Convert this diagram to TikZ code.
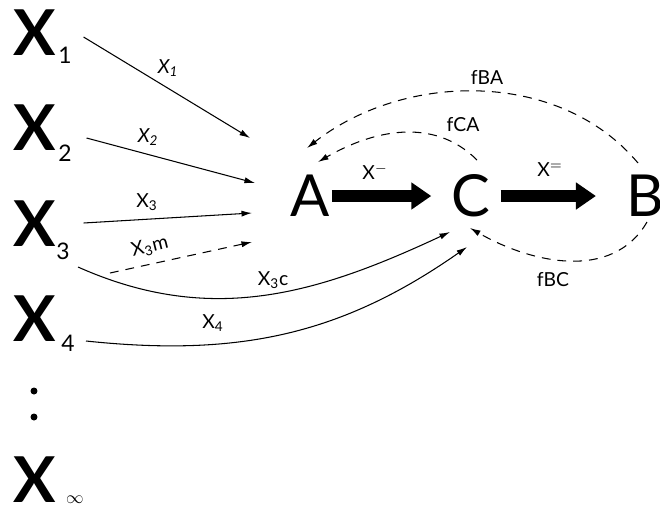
\documentclass[tikz,border=0pt]{standalone}
\usepackage{fontspec}
\setmainfont{Lato}
\usetikzlibrary{arrows.meta}

\begin{document}
\begin{tikzpicture}[x=0.02cm, y=-0.02cm,
  every node/.style={font=\fontsize{11}{13}\selectfont, inner sep=0pt},
  bigx/.style={font=\fontsize{36}{36}\selectfont\bfseries},
  xsub/.style={font=\fontsize{13}{13}\selectfont},
  letter/.style={font=\fontsize{33}{33}\selectfont},
  dot/.style={circle, fill, minimum size=0.14cm},
  flow/.style={line width=0.6pt, -{Latex[length=6pt,width=3.5pt]}},
  back/.style={flow, dash pattern=on 5pt off 4pt},
  fat/.style={line width=0.24cm, -{Triangle[length=0.4cm,width=0.52cm]}}]
  \useasboundingbox (0,0) rectangle (660,512);
  % inputs on the left
  \foreach \i/\y/\sx/\sy in {1/33/65/55, 2/128/65/153, 3/224/63/251, 4/319/68/343} {
    \node[bigx] (X\i) at (35,\y) {X};
    \node[xsub] (s\i) at (\sx,\sy) {\i};
  }
  \node[dot] (d1) at (34,391) {};
  \node[dot] (d2) at (34,417) {};
  \node[bigx] (Xinf) at (35,480) {X};
  \node[font=\fontsize{10}{10}\selectfont] (sinf) at (75,500) {$\infty$};
  % main chain
  \node[letter] (A) at (310,196) {A};
  \node[letter] (C) at (471,196) {C};
  \node[letter] (B) at (645,196) {B};
  \draw[fat] ([shift={(2,0)}]A.east) -- ([shift={(-20,0)}]C.west);
  \draw[fat] ([shift={(10,0)}]C.east) -- ([shift={(-30,0)}]B.west);
  \node (lAC) at (375,172) {X$^{-}$};
  \node (lCB) at (550,170) {X$^{=}$};
  % arrows into A
  \coordinate (in1) at (250,138);
  \coordinate (in2) at (255,183);
  \coordinate (in3) at (252,213);
  \coordinate (in3m) at (252,242);
  \draw[flow] ([shift={(27,4)}]X1.east) -- (in1);
  \draw[flow] ([shift={(30,10)}]X2.east) -- (in2);
  \draw[flow] ([shift={(27,-1)}]X3.east) -- (in3);
  \draw[back] ([shift={(47,22)}]s3.center) -- (in3m);
  \node (lX1) at (168,68) {\itshape X\textsubscript{1}};
  \node (lX2) at (148,137) {\itshape X\textsubscript{2}};
  \node (lX3) at (147,202) {X\textsubscript{3}};
  \node[rotate=14] (lX3m) at (150,247) {X\textsubscript{3}m};
  % arrows into C
  \draw[flow] ([shift={(15,16)}]s3.center) to[out=-24,in=205] ([shift={(-21,36)}]C.center);
  \draw[flow] ([shift={(18,-2)}]s4.center) to[out=-6,in=215] ([shift={(-4,51)}]C.center);
  \node (lX3c) at (273,280) {X\textsubscript{3}c};
  \node (lX4) at (213,323) {X\textsubscript{4}};
  % feedback
  \draw[back] ([shift={(6,-36)}]C.center) to[out=135,in=30] ([shift={(8,-34)}]A.center);
  \draw[back] ([shift={(-7,-33)}]B.center) to[out=130,in=38,looseness=0.95] ([shift={(-3,-48)}]A.center);
  \draw[back] ([shift={(2,26)}]B.center) to[out=240,in=-30] ([shift={(-1,32)}]C.center);
  \node (lfCA) at (463,125) {fCA};
  \node (lfBA) at (487,77) {fBA};
  \node (lfBC) at (553,280) {fBC};
\end{tikzpicture}
\end{document}
